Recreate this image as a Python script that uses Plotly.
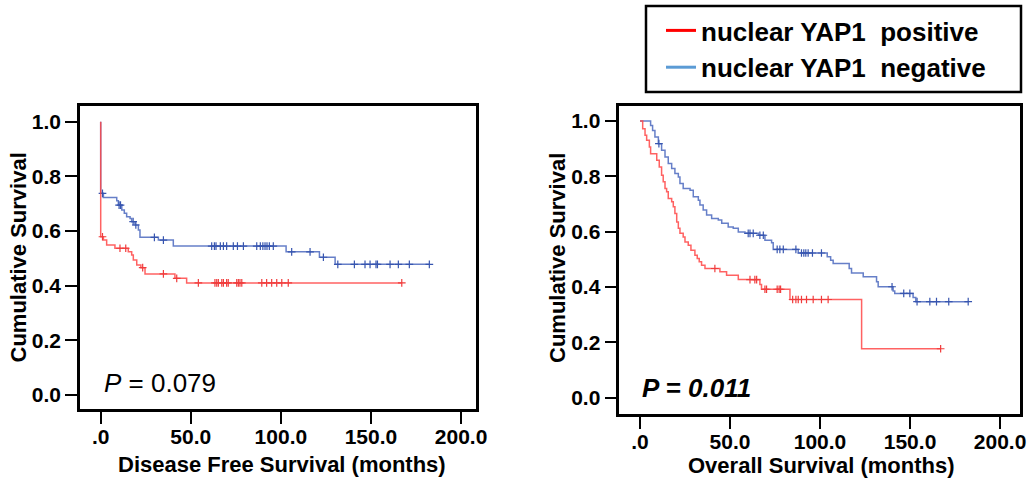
import plotly.graph_objects as go

# ---------------- DATA ----------------
# Disease free survival, nuclear YAP1 positive (red)
dfs_pos_t = [0, 0, 1.5, 3.3, 7.9, 15.3, 17.2, 18.1, 20.0, 22.3, 24.6, 41.2, 47.7, 167.1]
dfs_pos_s = [1.0, 0.579, 0.567, 0.549, 0.537, 0.524, 0.512, 0.494, 0.476, 0.466, 0.443, 0.427, 0.410, 0.410]
dfs_pos_cens = [1.0, 10.7, 13.9, 23.3, 34.8, 42.2, 54.2, 63.4, 64.4, 65.3, 67.2, 68.1, 69.9, 70.8,
                75.5, 76.4, 77.3, 78.3, 89.4, 92.1, 94.9, 97.7, 100.5, 104.1, 167.1]

# Disease free survival, nuclear YAP1 negative (blue)
dfs_neg_t = [0, 0, 1.5, 8.9, 9.8, 11.7, 13.1, 14.4, 16.3, 17.2, 19.0, 20.9, 21.8, 32.0, 40.3,
             102.9, 121.4, 130.1, 182.4]
dfs_neg_s = [1.0, 0.738, 0.723, 0.711, 0.695, 0.677, 0.665, 0.652, 0.646, 0.634, 0.622, 0.604,
             0.577, 0.567, 0.545, 0.524, 0.504, 0.478, 0.478]
dfs_neg_cens = [1.0, 10.2, 11.0, 18.0, 19.5, 29.8, 34.8, 61.6, 63.1, 64.0, 66.4, 68.1, 69.9, 73.6,
                75.9, 79.2, 86.6, 88.6, 90.0, 91.2, 92.3, 93.6, 95.8, 106.0, 116.2, 123.6, 131.6,
                140.8, 146.7, 149.5, 152.8, 153.6, 160.6, 165.2, 171.3, 182.4]

# Overall survival, nuclear YAP1 positive (red)
os_pos_t = [0, 1.5, 2.8, 3.7, 5.2, 5.9, 9.3, 10.7, 12.0, 12.9, 13.9, 14.8, 15.7, 17.6, 18.5, 19.4,
            20.4, 21.3, 22.2, 24.0, 25.0, 26.8, 28.3, 30.5, 31.8, 32.9, 34.2, 36.1, 44.4, 48.1,
            54.6, 66.6, 67.5, 83.3, 123.1, 167.0]
os_pos_s = [1.0, 0.972, 0.948, 0.930, 0.906, 0.882, 0.858, 0.834, 0.804, 0.780, 0.756, 0.744,
            0.720, 0.708, 0.690, 0.666, 0.635, 0.612, 0.594, 0.581, 0.563, 0.551, 0.533, 0.515,
            0.503, 0.491, 0.479, 0.467, 0.455, 0.443, 0.427, 0.409, 0.392, 0.355, 0.177, 0.177]
os_pos_cens = [41.6, 61.1, 63.8, 64.8, 69.4, 70.3, 76.2, 77.3, 78.1, 84.8, 86.6, 87.9, 89.7,
               92.5, 96.2, 100.8, 104.5, 167.0]

# Overall survival, nuclear YAP1 negative (blue)
os_neg_t = [0, 5.9, 7.0, 8.3, 10.2, 12.0, 13.9, 15.7, 17.6, 19.4, 21.3, 22.2, 24.0, 27.8, 29.6,
            32.4, 33.3, 35.1, 37.0, 39.8, 43.5, 45.4, 49.0, 51.8, 54.6, 58.3, 65.7, 69.4, 73.1,
            74.0, 87.9, 104.0, 105.9, 107.3, 116.2, 117.5, 124.0, 131.4, 132.3, 140.6, 141.5,
            151.7, 153.2, 182.3]
os_neg_s = [1.0, 0.984, 0.966, 0.942, 0.918, 0.894, 0.870, 0.846, 0.828, 0.810, 0.798, 0.774,
            0.756, 0.750, 0.726, 0.714, 0.696, 0.678, 0.660, 0.648, 0.642, 0.630, 0.617, 0.612,
            0.599, 0.594, 0.587, 0.569, 0.560, 0.536, 0.523, 0.509, 0.497, 0.485, 0.467, 0.451,
            0.437, 0.419, 0.401, 0.386, 0.377, 0.362, 0.347, 0.347]
os_neg_cens = [10.5, 60.1, 61.1, 62.9, 66.6, 68.5, 76.2, 77.7, 79.6, 86.6, 89.7, 91.0, 92.1, 93.4,
               95.8, 100.8, 140.0, 146.5, 149.9, 153.9, 161.0, 164.7, 171.5, 182.3]

x_tickvals = [0, 50, 100, 150, 200]
x_ticktext = [".0", "50.0", "100.0", "150.0", "200.0"]
y_tickvals = [0.0, 0.2, 0.4, 0.6, 0.8, 1.0]
y_ticktext = ["0.0", "0.2", "0.4", "0.6", "0.8", "1.0"]

legend_labels = ["nuclear YAP1\u00a0\u00a0positive", "nuclear YAP1\u00a0\u00a0negative"]
p_left = "<i>P</i> = 0.079"
p_right = "<b><i>P = 0.011</i></b>"

# ---------------- STYLE ----------------
FONT = "Liberation Sans, Arial, sans-serif"
RED_LINE = "rgba(255,70,70,0.85)"
RED_MARK = "rgb(240,60,60)"
BLUE_LINE = "rgba(75,105,190,0.85)"
BLUE_MARK = "rgb(55,85,175)"
W, H = 1029, 478  # reference pixel frame used to place elements (as fractions)


def km_value(ts, ss, t):
    v = ss[0]
    for ti, si in zip(ts, ss):
        if ti <= t:
            v = si
    return v


fig = go.Figure()


def add_curve(ts, ss, cens, line_col, mark_col, xa, ya):
    fig.add_trace(go.Scatter(x=ts, y=ss, mode="lines", line=dict(color=line_col, width=1.5, shape="hv"),
                             showlegend=False, hoverinfo="skip", xaxis=xa, yaxis=ya))
    fig.add_trace(go.Scatter(x=cens, y=[km_value(ts, ss, c) for c in cens], mode="markers",
                             marker=dict(symbol="cross-thin", size=5.5, line=dict(color=mark_col, width=1.2)),
                             showlegend=False, hoverinfo="skip", xaxis=xa, yaxis=ya))


add_curve(dfs_neg_t, dfs_neg_s, dfs_neg_cens, BLUE_LINE, BLUE_MARK, "x", "y")
add_curve(dfs_pos_t, dfs_pos_s, dfs_pos_cens, RED_LINE, RED_MARK, "x", "y")
add_curve(os_neg_t, os_neg_s, os_neg_cens, BLUE_LINE, BLUE_MARK, "x2", "y2")
add_curve(os_pos_t, os_pos_s, os_pos_cens, RED_LINE, RED_MARK, "x2", "y2")

# legend-only entries
for lab, col in zip(legend_labels, ["#ff0000", "#5b9bd5"]):
    fig.add_trace(go.Scatter(x=[None], y=[None], mode="lines", name=lab,
                             line=dict(color=col, width=3), xaxis="x2", yaxis="y2"))

tickfont = dict(family=FONT, size=21, color="black", weight="bold")
common_x = dict(tickmode="array", tickvals=x_tickvals, ticktext=x_ticktext, ticks="outside",
                ticklen=12, tickwidth=2, tickcolor="black", showline=True, linecolor="black",
                linewidth=2.5, mirror=True, showgrid=False, zeroline=False, tickfont=tickfont,
                ticklabelstandoff=-5)
common_y = dict(tickmode="array", tickvals=y_tickvals, ticktext=y_ticktext, ticks="outside",
                ticklen=12, tickwidth=2, tickcolor="black", showline=True, linecolor="black",
                linewidth=2.5, mirror=True, showgrid=False, zeroline=False, tickfont=tickfont)

fig.update_layout(
    autosize=True, height=H, margin=dict(l=0, r=0, t=0, b=0, autoexpand=False),
    paper_bgcolor="white", plot_bgcolor="white",
    xaxis=dict(domain=[80 / W, 476 / W], range=[-11.49, 208.3], anchor="y", **common_x),
    yaxis=dict(domain=[1 - 409 / H, 1 - 106 / H], range=[-0.0512, 1.0574], anchor="x", **common_y),
    xaxis2=dict(domain=[619.3 / W, 1019.5 / W], range=[-11.49, 210.8], anchor="y2", **common_x),
    yaxis2=dict(domain=[1 - 414 / H, 1 - 105.7 / H], range=[-0.0588, 1.0552], anchor="x2", **common_y),
    legend=dict(x=661 / W, y=1 - 7 / H, xanchor="left", yanchor="top", bgcolor="rgba(0,0,0,0)",
                borderwidth=0, tracegroupgap=0,
                font=dict(family=FONT, size=26, color="black", weight="bold")),
    showlegend=True,
)

# legend frame
fig.add_shape(type="rect", xref="paper", yref="paper", x0=646 / W, x1=1021 / W,
              y0=1 - 92 / H, y1=1 - 6 / H, line=dict(color="black", width=2.5))

title_font = dict(family=FONT, size=22, color="black", weight="bold")
annots = [
    dict(text="Cumulative Survival", x=18 / W, y=1 - 257.5 / H, textangle=-90, font=title_font),
    dict(text="Cumulative Survival", x=557 / W, y=1 - 258 / H, textangle=-90, font=title_font),
    dict(text="Disease Free Survival (months)", x=282 / W, y=1 - 464 / H, font=title_font),
    dict(text="Overall Survival (months)", x=821 / W, y=1 - 465 / H, font=title_font),
]
for a in annots:
    fig.add_annotation(xref="paper", yref="paper", xanchor="center", yanchor="middle",
                       showarrow=False, **a)
fig.add_annotation(text=p_left, xref="paper", yref="paper", x=102 / W, y=1 - 383 / H,
                   xanchor="left", yanchor="middle", showarrow=False,
                   font=dict(family=FONT, size=26, color="black"))
fig.add_annotation(text=p_right, xref="paper", yref="paper", x=640 / W, y=1 - 388 / H,
                   xanchor="left", yanchor="middle", showarrow=False,
                   font=dict(family=FONT, size=26, color="black"))

fig.write_html(
    "out.html", config={"displayModeBar": False, "responsive": True},
    default_width="100%", default_height="478px",
    post_script=("document.body.style.margin='0';document.body.style.padding='0';"
                 "document.body.style.overflow='hidden';"
                 "var gd=document.getElementById('{plot_id}');"
                 "Plotly.relayout(gd,{width:document.documentElement.clientWidth});"))
